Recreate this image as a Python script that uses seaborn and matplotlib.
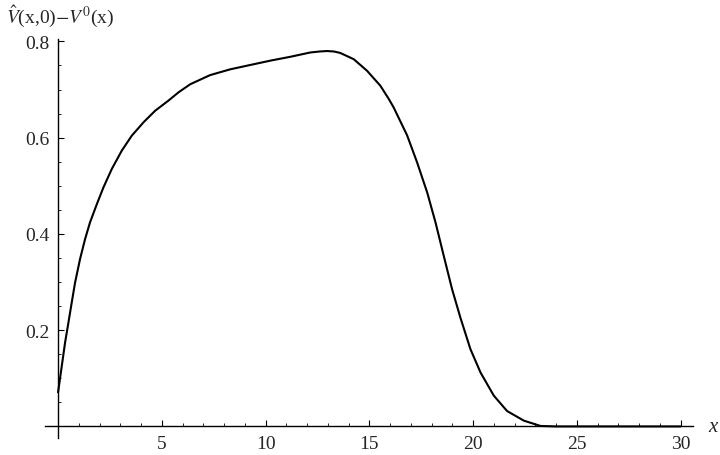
import numpy as np
import pandas as pd
import matplotlib
matplotlib.use("Agg")
import matplotlib.pyplot as plt
from matplotlib.ticker import MultipleLocator
import seaborn as sns

# values
x_vals = [0.0, 0.18, 0.34, 0.5, 0.66, 0.82, 1.06, 1.30, 1.54, 1.87, 2.19, 2.59,
          3.07, 3.55, 4.12, 4.68, 5.32, 5.80, 6.37, 7.33, 8.30, 9.26, 10.23, 11.19,
          12.16, 12.6, 12.96, 13.30, 13.60, 14.25, 14.89, 15.53, 15.93, 16.17, 16.82,
          17.30, 17.79, 18.19, 18.59, 18.99, 19.39, 19.87, 20.36, 21.0, 21.64, 22.45,
          23.25, 24.0, 25.0, 27.5, 30.0]
y_vals = [0.071, 0.126, 0.175, 0.216, 0.258, 0.299, 0.348, 0.389, 0.424, 0.462,
          0.497, 0.535, 0.573, 0.604, 0.632, 0.656, 0.677, 0.694, 0.711, 0.730, 0.742,
          0.751, 0.760, 0.768, 0.777, 0.779, 0.780, 0.779, 0.776, 0.763, 0.739, 0.708,
          0.681, 0.663, 0.605, 0.549, 0.486, 0.424, 0.354, 0.285, 0.226, 0.161, 0.112,
          0.064, 0.032, 0.012, 0.001, 0.0, 0.0, 0.0, 0.0]
x_ticks = [5, 10, 15, 20, 25, 30]
y_ticks = [0.2, 0.4, 0.6, 0.8]

df = pd.DataFrame({"x": x_vals, "v": y_vals})

sns.set_style("white")
plt.rcParams['font.family'] = ['Liberation Serif', 'DejaVu Serif']
plt.rcParams['mathtext.fontset'] = 'stix'

fig = plt.figure(figsize=(7.2, 4.56), dpi=100)
ax = fig.add_axes([0.0625, 0.0373, 0.9, 0.875])

sns.lineplot(data=df, x="x", y="v", ax=ax, color="black", linewidth=1.5)

ax.set_xlim(-0.63, 30.6)
ax.set_ylim(-0.024, 0.805)

# Mathematica style axes through the origin
ax.spines['left'].set_position(('data', 0))
ax.spines['bottom'].set_position(('data', 0))
ax.spines['top'].set_visible(False)
ax.spines['right'].set_visible(False)
for s in ['left', 'bottom']:
    ax.spines[s].set_linewidth(1.0)
    ax.spines[s].set_color("black")

ax.set_xticks(x_ticks)
ax.set_yticks(y_ticks)
ax.set_xticklabels([str(t) for t in x_ticks])
ax.set_yticklabels([f"{t:.1f}" for t in y_ticks])
ax.xaxis.set_minor_locator(MultipleLocator(1))
ax.yaxis.set_minor_locator(MultipleLocator(0.05))
ax.tick_params(which='major', direction='in', length=4, width=0.8, labelsize=14, pad=6)
ax.tick_params(which='minor', direction='in', length=2.5, width=0.6)
ax.tick_params(axis='x', which='both', bottom=True, color='black')
ax.tick_params(axis='y', which='both', left=True, color='black')

ax.set_xlabel("")
ax.set_ylabel("")
fig.text(0.008, 0.963, r"$\hat{V}$(x,0)$-V^{0}$(x)", fontsize=14, va='center', ha='left')
ax.text(1.031, 0.03, "x", transform=ax.transAxes, fontsize=15, style='italic',
        va='center', ha='center', clip_on=False)

fig.savefig("out.png", dpi=100)
